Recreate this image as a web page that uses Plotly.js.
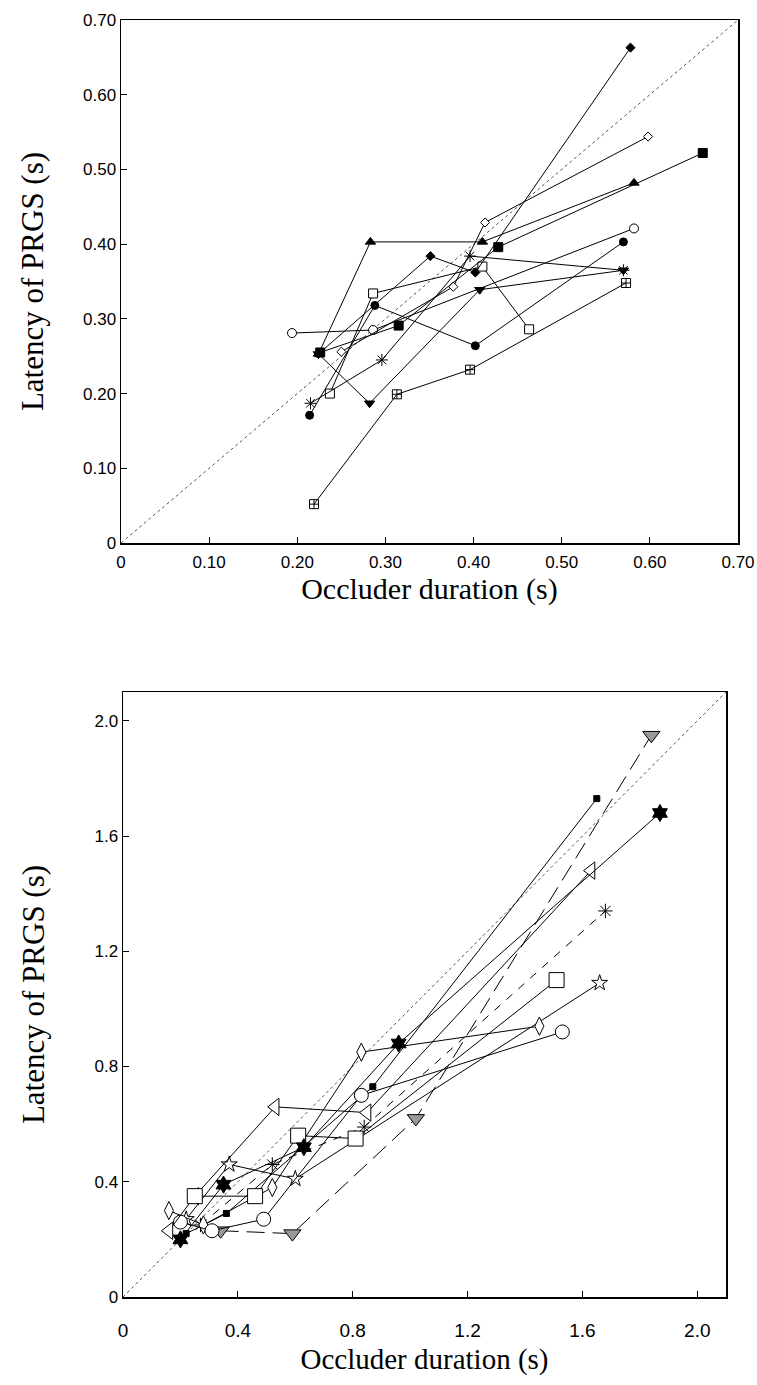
<!DOCTYPE html>
<html>
<head>
<meta charset="utf-8">
<script src="https://cdn.plot.ly/plotly-3.0.1.min.js"></script>
<style>html,body{margin:0;padding:0;background:#fff;}#chart{width:757px;height:1385px;}</style>
</head>
<body>
<div id="chart"></div>
<script>
// ---------- Top panel data (occluder duration s, latency s) ----------
const topTickVals = [0, 0.1, 0.2, 0.3, 0.4, 0.5, 0.6, 0.7];
const topTickText = ["0", "0.10", "0.20", "0.30", "0.40", "0.50", "0.60", "0.70"];

const topFilledDiamondX = [0.224, 0.351, 0.402, 0.578];
const topFilledDiamondY = [0.253, 0.384, 0.362, 0.663];
const topOpenDiamondX = [0.250, 0.377, 0.413, 0.598];
const topOpenDiamondY = [0.256, 0.343, 0.429, 0.544];
const topFilledSquareX = [0.226, 0.315, 0.428, 0.660];
const topFilledSquareY = [0.255, 0.291, 0.396, 0.522];
const topFilledTriUpX = [0.224, 0.283, 0.410, 0.582];
const topFilledTriUpY = [0.253, 0.403, 0.403, 0.482];
const topOpenCircleX = [0.194, 0.286, 0.582];
const topOpenCircleY = [0.281, 0.285, 0.421];
const topFilledCircleX = [0.214, 0.288, 0.402, 0.570];
const topFilledCircleY = [0.171, 0.318, 0.264, 0.403];
const topFilledTriDownX = [0.224, 0.282, 0.407, 0.570];
const topFilledTriDownY = [0.253, 0.187, 0.339, 0.365];
const topAsteriskX = [0.215, 0.296, 0.396, 0.570];
const topAsteriskY = [0.187, 0.245, 0.384, 0.365];
const topOpenSquareX = [0.237, 0.286, 0.410, 0.463];
const topOpenSquareY = [0.200, 0.334, 0.370, 0.286];
const topCrossSquareX = [0.219, 0.313, 0.396, 0.573];
const topCrossSquareY = [0.052, 0.199, 0.232, 0.348];
const topDiagonal = [0, 0.7];

// ---------- Bottom panel data ----------
const botTickVals = [0, 0.4, 0.8, 1.2, 1.6, 2.0];
const botTickText = ["0", "0.4", "0.8", "1.2", "1.6", "2.0"];

const botGrayTriX = [0.34, 0.59, 1.02, 1.84];
const botGrayTriY = [0.23, 0.22, 0.62, 1.95];
const botFilledStarX = [0.20, 0.35, 0.63, 0.96, 1.87];
const botFilledStarY = [0.20, 0.39, 0.52, 0.88, 1.68];
const botOpenSquareX = [0.25, 0.46, 0.61, 0.81, 1.51];
const botOpenSquareY = [0.35, 0.35, 0.56, 0.55, 1.10];
const botOpenTriLeftX = [0.16, 0.25, 0.53, 0.85, 1.63];
const botOpenTriLeftY = [0.23, 0.35, 0.66, 0.64, 1.48];
const botOpenCircleX = [0.20, 0.31, 0.49, 0.83, 1.53];
const botOpenCircleY = [0.26, 0.23, 0.27, 0.70, 0.92];
const botOpenDiamondX = [0.16, 0.28, 0.52, 0.83, 1.45];
const botOpenDiamondY = [0.30, 0.25, 0.38, 0.85, 0.94];
const botOpenStarX = [0.22, 0.37, 0.60, 1.66];
const botOpenStarY = [0.27, 0.46, 0.41, 1.09];
const botAsteriskX = [0.27, 0.52, 0.84, 1.68];
const botAsteriskY = [0.25, 0.46, 0.59, 1.34];
const botSmallDotX = [0.22, 0.36, 0.87, 1.65];
const botSmallDotY = [0.22, 0.29, 0.73, 1.73];
const botDiagonal = [0, 2.1];

// ---------- helpers ----------
function series(x, y, symbol, size, fill, xa, ya, dash, lineColor) {
  return {
    x: x, y: y, xaxis: xa, yaxis: ya, type: 'scatter', mode: 'lines+markers',
    line: {color: '#000', width: 1, dash: dash || 'solid'},
    marker: {symbol: symbol, size: size, color: fill, line: {color: lineColor || '#000', width: 1}},
    showlegend: false, hoverinfo: 'x+y'
  };
}

const traces = [
  {x: topDiagonal, y: topDiagonal, xaxis: 'x', yaxis: 'y', mode: 'lines',
   line: {color: '#555', width: 1, dash: 'dot'}, showlegend: false, hoverinfo: 'skip'},
  series(topCrossSquareX, topCrossSquareY, 'square-cross-open', 9, '#000', 'x', 'y'),
  series(topOpenSquareX, topOpenSquareY, 'square', 9, '#fff', 'x', 'y'),
  series(topAsteriskX, topAsteriskY, 'asterisk-open', 10, '#000', 'x', 'y'),
  series(topFilledTriDownX, topFilledTriDownY, 'triangle-down', 9, '#000', 'x', 'y'),
  series(topFilledCircleX, topFilledCircleY, 'circle', 8, '#000', 'x', 'y'),
  series(topOpenCircleX, topOpenCircleY, 'circle', 9, '#fff', 'x', 'y'),
  series(topFilledTriUpX, topFilledTriUpY, 'triangle-up', 9, '#000', 'x', 'y'),
  series(topFilledSquareX, topFilledSquareY, 'square', 9, '#000', 'x', 'y'),
  series(topOpenDiamondX, topOpenDiamondY, 'diamond', 7, '#fff', 'x', 'y'),
  series(topFilledDiamondX, topFilledDiamondY, 'diamond', 7, '#000', 'x', 'y'),

  {x: botDiagonal, y: botDiagonal, xaxis: 'x2', yaxis: 'y2', mode: 'lines',
   line: {color: '#555', width: 1, dash: 'dot'}, showlegend: false, hoverinfo: 'skip'},
  series(botGrayTriX, botGrayTriY, 'triangle-down', 15, '#999', 'x2', 'y2', '18px,8px'),
  series(botAsteriskX, botAsteriskY, 'asterisk-open', 12, '#000', 'x2', 'y2', '8px,8px'),
  series(botSmallDotX, botSmallDotY, 'square', 6, '#000', 'x2', 'y2'),
  series(botOpenStarX, botOpenStarY, 'star', 12, '#fff', 'x2', 'y2'),
  series(botOpenDiamondX, botOpenDiamondY, 'diamond-tall', 13, '#fff', 'x2', 'y2'),
  series(botOpenCircleX, botOpenCircleY, 'circle', 14, '#fff', 'x2', 'y2'),
  series(botOpenTriLeftX, botOpenTriLeftY, 'triangle-left', 15, '#fff', 'x2', 'y2'),
  series(botOpenSquareX, botOpenSquareY, 'square', 15, '#fff', 'x2', 'y2'),
  series(botFilledStarX, botFilledStarY, 'hexagram', 13, '#000', 'x2', 'y2')
];

const W = 757, H = 1385;
function xd(a, b) { return [a / W, b / W]; }
function yd(top, bottom) { return [1 - bottom / H, 1 - top / H]; }

const narrow = 'Liberation Sans Narrow, Arial Narrow, Liberation Sans, sans-serif';
const serif = 'Liberation Serif, Times New Roman, serif';

const axisCommon = {
  showgrid: false, zeroline: false, showline: true, mirror: true,
  linecolor: '#000', linewidth: 1.5, ticks: 'inside', ticklen: 6,
  tickcolor: '#000', tickwidth: 1, tickmode: 'array'
};

const layout = {
  width: W, height: H,
  margin: {l: 0, r: 0, t: 0, b: 0},
  paper_bgcolor: '#fff', plot_bgcolor: '#fff',
  xaxis: Object.assign({}, axisCommon, {
    domain: xd(121, 738), range: [0, 0.7], anchor: 'y',
    tickvals: topTickVals, ticktext: topTickText, ticklabelstandoff: 3,
    tickfont: {family: narrow, size: 17, color: '#000'},
    title: {text: 'Occluder duration (s)', font: {family: serif, size: 30, color: '#000'}, standoff: 6}
  }),
  yaxis: Object.assign({}, axisCommon, {
    domain: yd(20, 543), range: [0, 0.7], anchor: 'x',
    tickvals: topTickVals, ticktext: topTickText,
    tickfont: {family: narrow, size: 17, color: '#000'},
    title: {text: 'Latency of PRGS (s)', font: {family: serif, size: 31, color: '#000'}, standoff: 30}
  }),
  xaxis2: Object.assign({}, axisCommon, {
    domain: xd(123, 726), range: [0, 2.1], anchor: 'y2',
    tickvals: botTickVals, ticktext: botTickText, ticklabelstandoff: 16,
    tickfont: {family: narrow, size: 19, color: '#000'},
    title: {text: 'Occluder duration (s)', font: {family: serif, size: 29, color: '#000'}, standoff: 8}
  }),
  yaxis2: Object.assign({}, axisCommon, {
    domain: yd(692, 1297), range: [0, 2.1], anchor: 'x2',
    tickvals: botTickVals, ticktext: botTickText,
    tickfont: {family: 'Liberation Sans, Arial, sans-serif', size: 17, color: '#000'},
    title: {text: 'Latency of PRGS (s)', font: {family: serif, size: 31, color: '#000'}, standoff: 40}
  })
};

Plotly.newPlot('chart', traces, layout, {staticPlot: true});
</script>
</body>
</html>
